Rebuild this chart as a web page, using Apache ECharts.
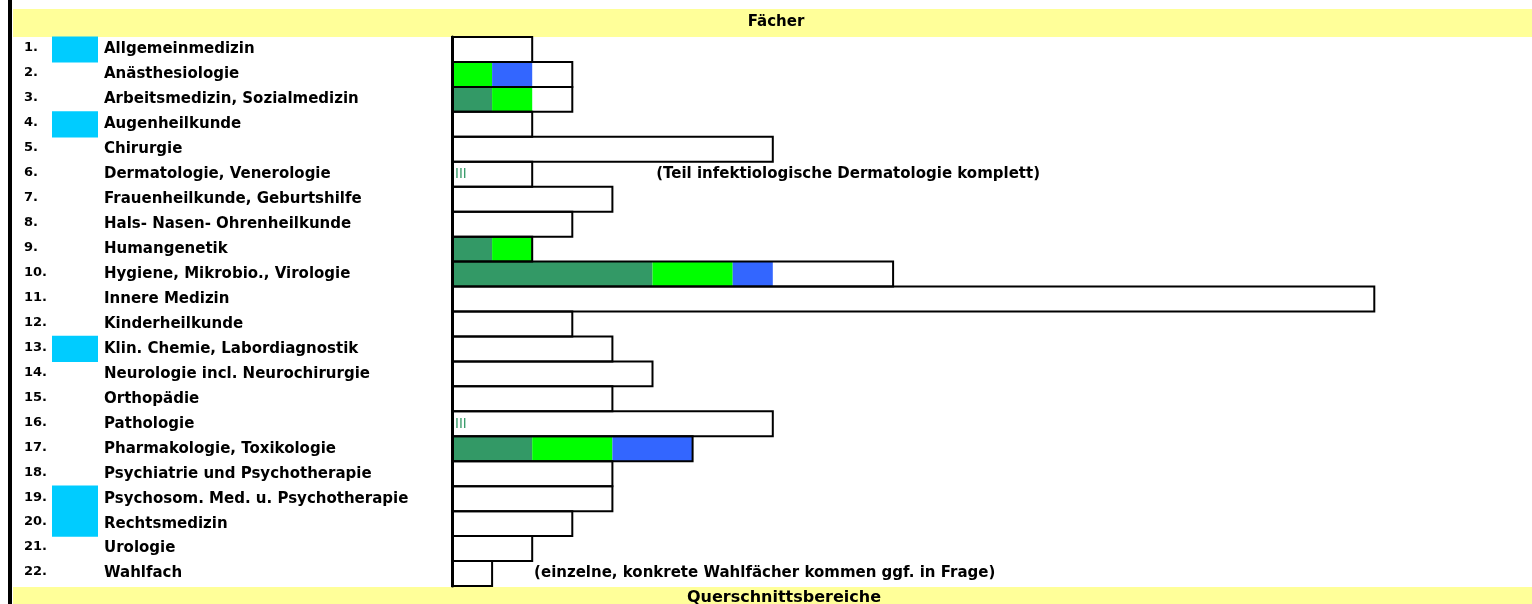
<!DOCTYPE html>
<html>
<head>
<meta charset="utf-8">
<script src="https://cdn.jsdelivr.net/npm/echarts@6/dist/echarts.min.js"></script>
<style>
  html, body { margin: 0; padding: 0; background: #fff; }
  #chart { width: 1532px; height: 604px; }
</style>
</head>
<body>
<div id="chart"></div>
<script>
// ---- data ----
const rowNums = ['1.','2.','3.','4.','5.','6.','7.','8.','9.','10.','11.','12.','13.','14.','15.','16.','17.','18.','19.','20.','21.','22.'];
const categories = [
  'Allgemeinmedizin', 'Anästhesiologie', 'Arbeitsmedizin, Sozialmedizin', 'Augenheilkunde',
  'Chirurgie', 'Dermatologie, Venerologie', 'Frauenheilkunde, Geburtshilfe', 'Hals- Nasen- Ohrenheilkunde',
  'Humangenetik', 'Hygiene, Mikrobio., Virologie', 'Innere Medizin', 'Kinderheilkunde',
  'Klin. Chemie, Labordiagnostik', 'Neurologie incl. Neurochirurgie', 'Orthopädie', 'Pathologie',
  'Pharmakologie, Toxikologie', 'Psychiatrie und Psychotherapie', 'Psychosom. Med. u. Psychotherapie',
  'Rechtsmedizin', 'Urologie', 'Wahlfach'
];
const highlighted = [1,0,0,1,0,0,0,0,0,0,0,0,1,0,0,0,0,0,1,1,0,0];
const outlineValues = [2,3,3,2,8,2,4,3,2,11,23,3,4,5,4,8,6,4,4,3,2,1];
const darkGreenValues = [0,0,1,0,0,0,0,0,1,5,0,0,0,0,0,0,2,0,0,0,0,0];
const greenValues     = [0,1,1,0,0,0,0,0,1,2,0,0,0,0,0,0,2,0,0,0,0,0];
const blueValues      = [0,1,0,0,0,0,0,0,0,1,0,0,0,0,0,0,2,0,0,0,0,0];
const tallyMarks      = [0,0,0,0,0,1,0,0,0,0,0,0,0,0,0,1,0,0,0,0,0,0];
const notes = [null,null,null,null,null,'(Teil infektiologische Dermatologie komplett)',null,null,null,null,null,null,null,null,null,null,null,null,null,null,null,'(einzelne, konkrete Wahlfächer kommen ggf. in Frage)'];
const sectionTitles = ['Fächer', 'Querschnittsbereiche'];

// ---- chart ----
const FONT = 'DejaVu Sans';
const noteDistance = { 5: 124, 21: 42 };

const chart = echarts.init(document.getElementById('chart'), null, { renderer: 'canvas' });

// segments [start, end, row] derived from stacked arrays
const stackOrder = [darkGreenValues, greenValues, blueValues];
const segData = stackOrder.map(() => []);
categories.forEach((c, i) => {
  let acc = 0;
  stackOrder.forEach((arr, s) => {
    if (arr[i]) segData[s].push([acc, acc + arr[i], i]);
    acc += arr[i];
  });
});
const outlineData = outlineValues.map((v, i) => [0, v, i]);
const highlightData = highlighted.map((v, i) => v ? [0, v, i] : null).filter(Boolean);
const markData = tallyMarks.map((v, i) => v ? [0, 0, i] : null).filter(Boolean);

function rectFor(api) {
  const p0 = api.coord([api.value(0), api.value(2)]);
  const p1 = api.coord([api.value(1), api.value(2)]);
  const h = api.size([0, 1])[1];
  return { x: p0[0], y: p0[1] - h / 2, width: p1[0] - p0[0], height: h, cy: p0[1] };
}
function fillRenderer(color, bleed) {
  return function (params, api) {
    const r = rectFor(api);
    return { type: 'rect', shape: { x: r.x, y: r.y - bleed, width: r.width, height: r.height + 2 * bleed }, style: { fill: color } };
  };
}
function outlineRenderer(params, api) {
  const r = rectFor(api);
  const row = api.value(2);
  const children = [{
    type: 'rect', shape: { x: r.x, y: r.y, width: r.width, height: r.height },
    style: { fill: null, stroke: '#000', lineWidth: 2 }
  }];
  if (notes[row]) {
    children.push({
      type: 'text', x: r.x + r.width + (noteDistance[row] || 10), y: r.cy,
      style: { text: notes[row], fill: '#000', font: 'bold 15px "DejaVu Sans"', textAlign: 'left', textVerticalAlign: 'middle' }
    });
  }
  return { type: 'group', children: children };
}
function markRenderer(params, api) {
  const r = rectFor(api);
  return {
    type: 'text', x: r.x + 3, y: r.cy,
    style: { text: 'III', fill: '#339966', font: '14px "Liberation Sans"', textAlign: 'left', textVerticalAlign: 'middle' }
  };
}

const option = {
  animation: false,
  backgroundColor: '#fff',
  grid: [
    { left: 452, top: 37, width: 26 * 40.1, height: 549 },
    { left: 52, top: 37, width: 46, height: 549 }
  ],
  xAxis: [
    { type: 'value', min: 0, max: 26, show: false },
    { type: 'value', min: 0, max: 1, show: false, gridIndex: 1 }
  ],
  yAxis: [
    {
      type: 'category', data: categories, inverse: true,
      axisLine: { show: true, lineStyle: { color: '#000', width: 3 } },
      axisTick: { show: false },
      splitLine: { show: false },
      z: 10,
      axisLabel: {
        align: 'left', margin: 428, interval: 0,
        formatter: (val, idx) => '{n|' + rowNums[idx] + '}{l|' + val + '}',
        rich: {
          n: { width: 80, align: 'left', fontFamily: FONT, fontWeight: 'bold', fontSize: 13, color: '#000', padding: [0,0,3,0] },
          l: { fontFamily: FONT, fontWeight: 'bold', fontSize: 15, color: '#000' }
        }
      }
    },
    { type: 'category', data: categories, inverse: true, show: false, gridIndex: 1 }
  ],
  series: [
    { name: 'highlight', type: 'custom', xAxisIndex: 1, yAxisIndex: 1, data: highlightData, renderItem: fillRenderer('#00ccff', 0.6), z: 1 },
    { name: 'A', type: 'custom', data: segData[0], renderItem: fillRenderer('#339966', 0), z: 2 },
    { name: 'B', type: 'custom', data: segData[1], renderItem: fillRenderer('#00ff00', 0), z: 2 },
    { name: 'C', type: 'custom', data: segData[2], renderItem: fillRenderer('#3366ff', 0), z: 2 },
    { name: 'marks', type: 'custom', data: markData, renderItem: markRenderer, z: 3 },
    { name: 'outline', type: 'custom', data: outlineData, renderItem: outlineRenderer, z: 4 }
  ],
  graphic: [
    { type: 'rect', shape: { x: 8, y: 0, width: 4, height: 604 }, style: { fill: '#000' }, z: 10 },
    { type: 'rect', shape: { x: 13, y: 9, width: 1519, height: 28 }, style: { fill: '#ffff99' }, z: 0 },
    { type: 'rect', shape: { x: 13, y: 587, width: 1519, height: 17 }, style: { fill: '#ffff99' }, z: 0 },
    { type: 'text', x: 776, y: 22, z: 10, style: { text: sectionTitles[0], textAlign: 'center', textVerticalAlign: 'middle', fill: '#000', font: 'bold 15px "DejaVu Sans"' } },
    { type: 'text', x: 784, y: 598, z: 10, style: { text: sectionTitles[1], textAlign: 'center', textVerticalAlign: 'middle', fill: '#000', font: 'bold 16px "DejaVu Sans"' } }
  ]
};
chart.setOption(option);
</script>
</body>
</html>
